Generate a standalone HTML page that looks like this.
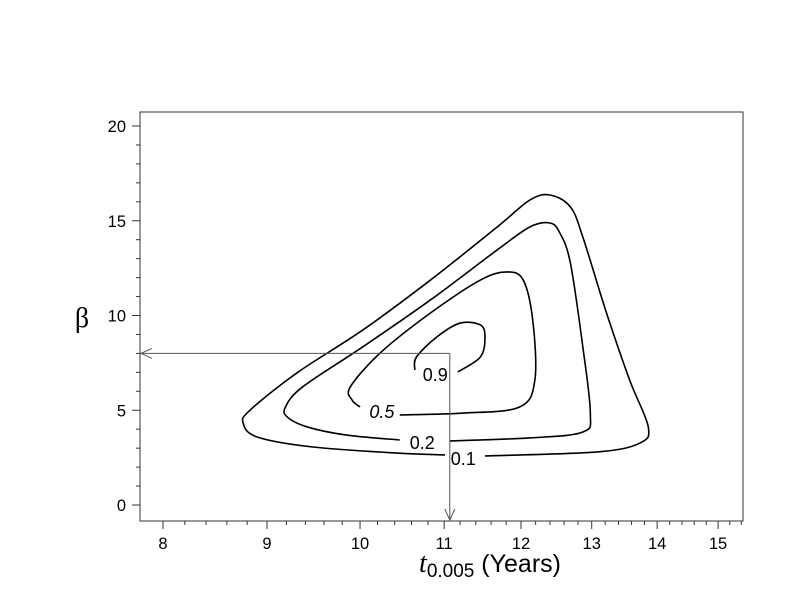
<!DOCTYPE html>
<html><head><meta charset="utf-8"><style>
html,body{margin:0;padding:0;background:#fff;}
svg{display:block;font-family:"Liberation Sans",sans-serif;}
</style></head><body>
<svg id="chart" width="792" height="612" viewBox="0 0 792 612">
<rect x="140" y="112" width="603" height="409" fill="none" stroke="#333" stroke-width="1"/>
<g id="axes"></g>
<g id="contours"></g>
<text x="82" y="327" font-family="Liberation Serif, serif" font-size="28" text-anchor="middle">β</text>
<text x="490" y="572" font-size="25" text-anchor="middle"><tspan font-style="italic" font-family="Liberation Serif, serif" font-size="28">t</tspan><tspan font-size="19" dy="5">0.005</tspan><tspan dy="-5"> (Years)</tspan></text>
</svg>
<script>
const xTicks=[8,9,10,11,12,13,14,15];
const yTicks=[0,5,10,15,20];
const levels=["0.1","0.2","0.5","0.9"];
const c01T=[11.52,13.08,13.73,13.86,13.57,13.22,12.87,12.69,12.40,12.12,11.68,10.83,10.03,9.31,8.83,8.76,8.90,9.48,10.43,11.01];
const c01B=[2.59,2.80,3.27,4.12,6.60,10.13,14.14,15.73,16.36,16.09,14.67,11.87,9.23,6.97,5.01,4.33,3.59,3.06,2.74,2.64];
const c02T=[11.07,12.12,12.87,12.98,12.87,12.69,12.54,12.40,12.12,11.68,10.83,10.03,9.37,9.19,9.21,9.42,9.85,10.46];
const c02B=[3.38,3.54,3.85,4.85,8.34,12.77,14.35,14.88,14.67,13.46,10.82,8.34,6.23,5.17,4.64,4.12,3.69,3.43];
const c05T=[10.46,11.24,11.98,12.19,12.16,12.03,11.81,11.46,10.83,10.23,9.89,9.91,10.0];
const c05B=[4.75,4.85,5.17,6.60,9.76,11.87,12.30,11.87,10.13,8.02,6.23,5.54,5.17];
const c09T=[10.64,10.66,10.91,11.20,11.46,11.52,11.46,11.17];
const c09B=[7.12,7.81,8.87,9.60,9.50,8.87,7.81,7.02];
const labelT=[11.24,10.73,10.25,10.89];
const labelB=[2.43,3.27,4.91,6.86];
const refT=11.07, refB=8.0;

const NS="http://www.w3.org/2000/svg";
function X(t){return 163+883*Math.log(t/8);}
function Y(b){return 505-18.95*b;}
function mk(tag,attrs,parent){const e=document.createElementNS(NS,tag);for(const k in attrs)e.setAttribute(k,attrs[k]);parent.appendChild(e);return e;}
const axes=document.getElementById('axes');
const L=140,B=521,T=112,R=743;
xTicks.forEach((v,i)=>{
  const x=X(v);
  const tk=mk('line',{x1:x,x2:x,y1:B,y2:B+8,stroke:'#333'},axes);
  
  
  const tx=mk('text',{x:x,y:B+28,'font-size':16.5,'text-anchor':'middle'},axes);
  tx.textContent=v;
  
  
  for(let k=1;k<5;k++){const xm=X(v+k*0.2);if(xm>R)break;
    const m=mk('line',{x1:xm,x2:xm,y1:B,y2:B+4,stroke:'#333'},axes);
    
    }
});
yTicks.forEach(v=>{
  const y=Y(v);
  const tk=mk('line',{x1:L-8,x2:L,y1:y,y2:y,stroke:'#333'},axes);
  
  
  const tx=mk('text',{x:L-14,y:y+6,'font-size':16.5,'text-anchor':'end'},axes);
  tx.textContent=v;
  
  
});
for(let v=1;v<20;v++){if(v%5===0)continue;const y=Y(v);
  const m=mk('line',{x1:L-4,x2:L,y1:y,y2:y,stroke:'#333'},axes);
  
  }

function smooth(ts,bs){
  const p=ts.map((t,i)=>[X(t),Y(bs[i])]);
  let d='M'+p[0][0]+','+p[0][1];
  for(let i=0;i<p.length-1;i++){
    const p0=p[Math.max(0,i-1)],p1=p[i],p2=p[i+1],p3=p[Math.min(p.length-1,i+2)];
    const c1=[p1[0]+(p2[0]-p0[0])/6,p1[1]+(p2[1]-p0[1])/6];
    const c2=[p2[0]-(p3[0]-p1[0])/6,p2[1]-(p3[1]-p1[1])/6];
    d+=` C${c1[0]},${c1[1]} ${c2[0]},${c2[1]} ${p2[0]},${p2[1]}`;
  }
  return d;
}
const cg=document.getElementById('contours');
const sets=[[c01T,c01B],[c02T,c02B],[c05T,c05B],[c09T,c09B]];
sets.forEach((s,i)=>{
  const p=mk('path',{d:smooth(s[0],s[1]),fill:'none',stroke:'#000','stroke-width':1.6},cg);
  
  
  const tx=mk('text',{x:X(labelT[i]),y:Y(labelB[i])+6,'font-size':18,'text-anchor':'middle'},cg);
  if(levels[i]==="0.5")tx.setAttribute('font-style','italic');
  tx.textContent=levels[i];
  
  
});
const rx=X(refT),ry=Y(refB);
const h=mk('path',{d:`M${rx},${ry} L${L+1},${ry} M${L+12},${ry-5} L${L+1},${ry} L${L+12},${ry+5}`,fill:'none',stroke:'#555','stroke-width':1},cg);


const v=mk('path',{d:`M${rx},${ry} L${rx},${B-1} M${rx-5},${B-12} L${rx},${B-1} L${rx+5},${B-12}`,fill:'none',stroke:'#555','stroke-width':1},cg);


</script>
</body></html>
